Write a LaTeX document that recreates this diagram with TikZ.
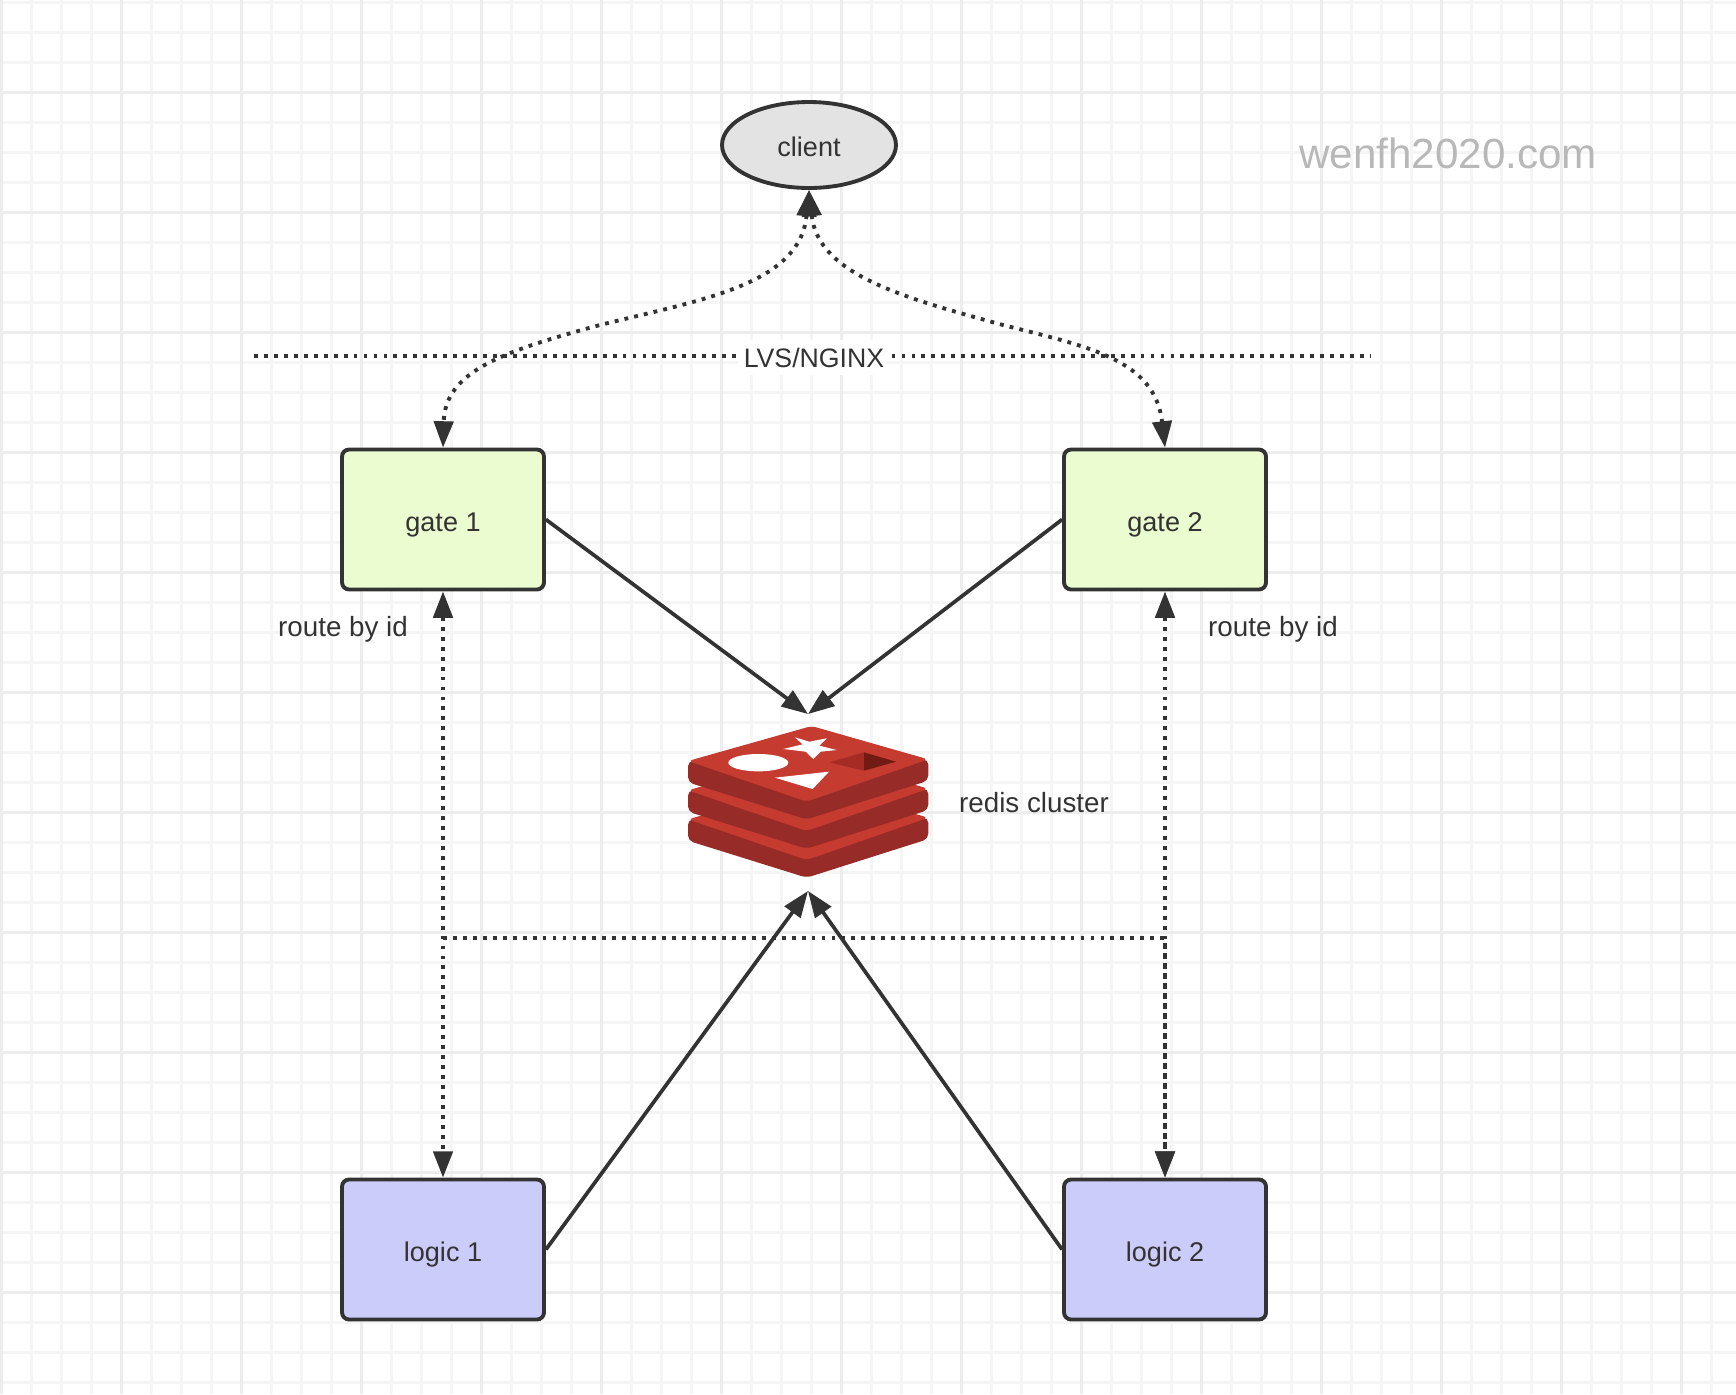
\documentclass[tikz,border=0pt]{standalone}
\usepackage{fontspec}
\setmainfont{Liberation Sans}
\usepackage{xcolor}
\usetikzlibrary{positioning,arrows.meta,shapes.geometric}
\definecolor{inkgrey}{HTML}{333333}
\definecolor{gridminor}{HTML}{F5F5F5}
\definecolor{gridmajor}{HTML}{EDEDED}
\definecolor{gatefill}{HTML}{EAFCD0}
\definecolor{logicfill}{HTML}{CCCCFB}
\definecolor{clientfill}{HTML}{E3E3E3}
\definecolor{redisface}{HTML}{C53B30}
\definecolor{redisside}{HTML}{962B27}
\definecolor{redisdark}{HTML}{721A14}
\definecolor{redismid}{HTML}{A52B24}
\tikzset{
  box/.style = {rectangle,draw = inkgrey,line width = 2.2pt,rounded corners = 4pt,
    minimum width = 4.04cm,minimum height = 2.8cm,text = inkgrey,text height = 13.6pt,text depth = 0pt,
    font = \fontsize{15.4}{18}\selectfont},
  tag/.style = {text = inkgrey,inner sep = 0pt,anchor = base,font = \fontsize{15.8}{18}\selectfont},
  solidarrow/.style = {draw = inkgrey,line width = 2.1pt,-{Triangle[length = 15pt,width = 11pt]}},
  dotline/.style = {draw = inkgrey,line width = 2.2pt,dash pattern = on 2.2pt off 3.47pt},
  dotarrow/.style = {dotline,{Triangle[length = 15pt,width = 11pt]}-{Triangle[length = 15pt,width = 11pt]}},
  layer/.style = {rounded corners = 3pt}
}
\begin{document}
\begin{tikzpicture}[x=0.02cm,y=-0.02cm]
\useasboundingbox (0,0) rectangle (1736,1394);
\fill[white] (0,0) rectangle (1736,1394);
% grid
\foreach \i in {0,...,57} \draw[gridminor,line width = 1.3pt] ({1.5+30*\i},0) -- ({1.5+30*\i},1394);
\foreach \j in {0,...,46} \draw[gridminor,line width = 1.3pt] (0,{2.5+30*\j}) -- (1736,{2.5+30*\j});
\foreach \i in {0,...,14} \draw[gridmajor,line width = 1.6pt] ({1.5+120*\i},0) -- ({1.5+120*\i},1394);
\foreach \j in {0,...,11} \draw[gridmajor,line width = 1.6pt] (0,{92.5+120*\j}) -- (1736,{92.5+120*\j});
% nodes
\node[ellipse,draw = inkgrey,line width = 2.2pt,fill = clientfill,text = inkgrey,minimum width = 3.48cm,
  minimum height = 1.72cm,inner sep = 0pt,text height = 12.7pt,text depth = 0pt,font = \fontsize{15.4}{18}\selectfont] (client) at (809,145) {client};
\node[box,fill = gatefill] (gate1) at (443,519.5) {gate 1};
\node[box,fill = gatefill] (gate2) at (1165,519.5) {gate 2};
\node[box,fill = logicfill] (logic1) at (443,1249.5) {logic 1};
\node[box,fill = logicfill] (logic2) at (1165,1249.5) {logic 2};
\node[minimum width = 4.8cm,minimum height = 3.54cm,inner sep = 0pt,outer sep = 0pt] (redis) at (808,802.5) {};
\node[tag] (rediscluster) at (1034,812.5) {redis cluster};
\node[tag] (route1) at (343,636.5) {route by id};
\node[tag] (route2) at (1273,636.5) {route by id};
\node[text = black!28,inner sep = 0pt,anchor = base,font = \fontsize{24}{28}\selectfont] (site) at (1448,168) {wenfh2020.com};
% lvs line
\coordinate (lvsleft) at (254,356);
\coordinate (lvsright) at (1371,356);
\draw[dotline] (lvsleft) -- (lvsright);
\node[fill = white,inner sep = 0pt,minimum width = 2.98cm,minimum height = 0.7cm] (lvsbg) at (812.5,357.5) {};
\node[tag,font = \fontsize{15.2}{18}\selectfont] (lvs) at (814,367) {LVS/NGINX};
% connectors
\draw[dotarrow] (client.south) .. controls (800,285) and (700,300) .. (600,325)
  .. controls (500,352) and (445,372) .. (gate1.north);
\draw[dotarrow] (client.south) .. controls (818,275) and (905,298) .. (1003,325)
  .. controls (1090,347) and (1155,360) .. (gate2.north);
\draw[solidarrow] (gate1.east) -- (redis.north);
\draw[solidarrow] (gate2.west) -- (redis.north);
\draw[solidarrow] (logic1.east) -- (redis.south);
\draw[solidarrow] (logic2.west) -- (redis.south);
\draw[dotarrow] (gate1.south) -- (logic1.north);
\draw[dotarrow] (gate2.south) -- (logic2.north);
\coordinate (cross) at (443,938);
\draw[dotline,-{Triangle[length = 15pt,width = 11pt]}] (cross) -| (logic2.north);
% redis logo
\begin{scope}[shift={(660,700)},x=0.02cm/3,y=-0.02cm/3]
\foreach \dy in {175,88,0} {
  \fill[redisside,layer] (84,{183+\dy}) -- (84,{247+\dy}) -- (440,{358+\dy}) -- (805,{242+\dy}) -- (805,{178+\dy}) -- (440,{185+\dy}) -- cycle;
  \fill[redisface,layer] (84,{183+\dy}) -- (455,{78+\dy}) -- (805,{178+\dy}) -- (440,{305+\dy}) -- cycle;
}
\fill[white] (370,147) -- (428,133) -- (405,112) -- (448,125) -- (500,115) -- (478,137) -- (530,150) -- (482,155) -- (460,177) -- (437,155) -- cycle;
\fill[white] (295,188) ellipse [x radius = 90,y radius = 26];
\fill[white] (345,233) -- (507,215) -- (458,267) -- cycle;
\fill[redismid] (508,187) -- (612,157) -- (612,212) -- cycle;
\fill[redisdark] (612,157) -- (708,185) -- (612,212) -- cycle;
\end{scope}
\end{tikzpicture}
\end{document}
